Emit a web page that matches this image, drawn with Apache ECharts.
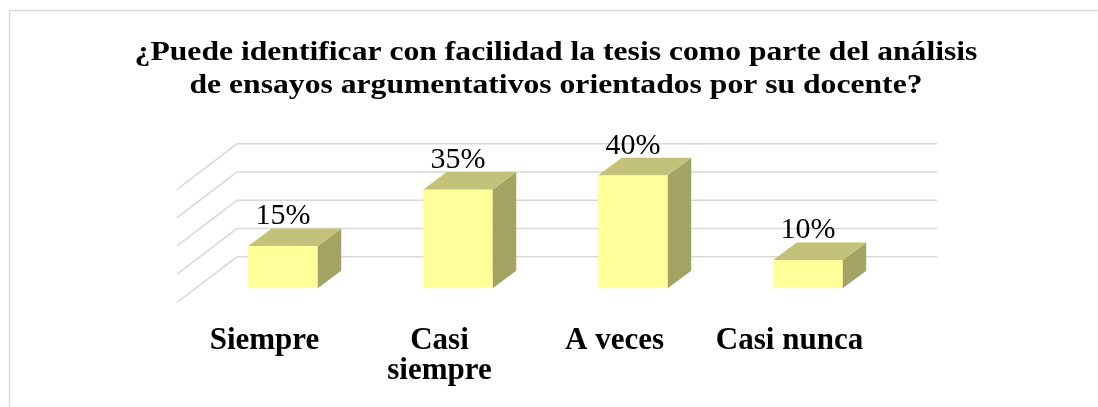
<!DOCTYPE html>
<html>
<head>
<meta charset="utf-8">
<script src="https://cdn.jsdelivr.net/npm/echarts@6/dist/echarts.min.js"></script>
<style>
  html, body { margin: 0; padding: 0; background: #fff; }
  #chart { width: 1098px; height: 407px; }
</style>
</head>
<body>
<div id="chart"></div>
<script>
// datos de la encuesta
const categories = ['Siempre', 'Casi siempre', 'A veces', 'Casi nunca'];
const percents = [15, 35, 40, 10];
const yTicks = [0, 10, 20, 30, 40];
const titleLines = [
  '¿Puede identificar con facilidad la tesis como parte del análisis',
  'de ensayos argumentativos orientados por su docente?',
];

const FONT = '"Liberation Serif", "Times New Roman", serif';
const GRID_COLOR = '#d9d9d9';
// desplazamientos de la vista 3D (px)
const WALL = [60, -45.5];
const FLOOR_SHIFT = [18.5, -14];
const BAR_DEPTH = [23.5, -17.5];
const BAR_RATIO = 0.397;
const FRONT = '#ffff99';
const TOP = '#c2c27a';
const SIDE = '#a4a462';

const chart = echarts.init(document.getElementById('chart'));

function renderWall(params, api) {
  const y = api.coord([0, api.value(1)])[1];
  const left = params.coordSys.x;
  const right = params.coordSys.x + params.coordSys.width;
  return {
    type: 'polyline',
    shape: {
      points: [
        [left, y],
        [left + WALL[0], y + WALL[1]],
        [right + WALL[0], y + WALL[1]],
      ],
    },
    style: { stroke: GRID_COLOR, lineWidth: 1.5, fill: null },
  };
}

function renderBar(params, api) {
  const idx = api.value(0);
  const v = api.value(1);
  const base = api.coord([idx, 0]);
  const top = api.coord([idx, v]);
  const w = api.size([1, 0])[0] * BAR_RATIO;
  const cx = base[0] + FLOOR_SHIFT[0];
  const x0 = cx - w / 2;
  const x1 = cx + w / 2;
  const yb = base[1] + FLOOR_SHIFT[1];
  const yt = top[1] + FLOOR_SHIFT[1];
  const dx = BAR_DEPTH[0];
  const dy = BAR_DEPTH[1];
  return {
    type: 'group',
    children: [
      {
        type: 'rect',
        shape: { x: x0, y: yt, width: w, height: yb - yt },
        style: { fill: FRONT },
      },
      {
        type: 'polygon',
        shape: { points: [[x1, yt], [x1 + dx, yt + dy], [x1 + dx, yb + dy], [x1, yb]] },
        style: { fill: SIDE },
      },
      {
        type: 'polygon',
        shape: { points: [[x0, yt], [x0 + dx, yt + dy], [x1 + dx, yt + dy], [x1, yt]] },
        style: { fill: TOP },
      },
      {
        type: 'text',
        x: cx,
        y: yt + dy - 12,
        style: {
          text: v + '%',
          fontSize: 30,
          fontFamily: FONT,
          fill: '#000',
          align: 'center',
          verticalAlign: 'middle',
        },
      },
    ],
  };
}

chart.setOption({
  backgroundColor: '#fff',
  animation: false,
  graphic: [
    {
      type: 'polyline',
      shape: { points: [[9.5, 407], [9.5, 10.5], [1098, 10.5]] },
      style: { stroke: GRID_COLOR, lineWidth: 1.5, fill: null },
    },
    {
      type: 'text',
      x: 556,
      y: 36,
      scaleX: 1.13,
      style: {
        text: titleLines.join('\n'),
        fontSize: 28,
        fontWeight: 'bold',
        fontFamily: FONT,
        lineHeight: 33,
        fill: '#000',
        align: 'center',
        verticalAlign: 'top',
      },
    },
  ],
  grid: { left: 177, right: 221, top: 189.3, bottom: 104.7 },
  xAxis: {
    type: 'category',
    data: categories,
    axisLine: { show: false },
    axisTick: { show: false },
    axisLabel: {
      interval: 0,
      margin: 24,
      fontSize: 31,
      fontWeight: 'bold',
      fontFamily: FONT,
      color: '#000',
      lineHeight: 30,
      // Excel parte solo la etiqueta larga en dos líneas
      formatter: (value) => (value.length > 10 ? value.replace(' ', '\n') : value),
    },
  },
  yAxis: {
    type: 'value',
    min: 0,
    max: 40,
    interval: 10,
    axisLine: { show: false },
    axisTick: { show: false },
    axisLabel: { show: false },
    splitLine: { show: false },
  },
  series: [
    {
      type: 'custom',
      z: 1,
      silent: true,
      renderItem: renderWall,
      data: yTicks.map((t) => [0, t]),
    },
    {
      type: 'custom',
      z: 2,
      renderItem: renderBar,
      data: percents.map((p, i) => [i, p]),
    },
  ],
});
</script>
</body>
</html>
